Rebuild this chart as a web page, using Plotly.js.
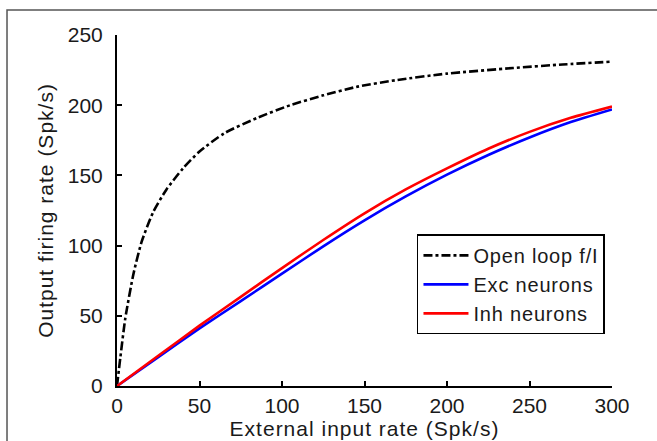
<!DOCTYPE html>
<html>
<head>
<meta charset="utf-8">
<script src="https://cdn.plot.ly/plotly-3.0.1.min.js"></script>
<style>
  html, body { margin: 0; padding: 0; background: #fff; overflow: hidden; }
  #chart { width: 657px; height: 441px; }
  .xtitle, .ytitle { letter-spacing: 1px; }
  .legendtext { letter-spacing: 0.8px; }
</style>
</head>
<body>
<div id="chart"></div>
<script>
// Open loop f/I curve
const openX = [0, 2, 5, 10, 15, 22, 30, 40, 50, 65, 85, 105, 125, 145, 170, 200, 240, 270, 300];
const openY = [0, 20, 48, 80, 103, 124, 140, 155, 167, 180, 191, 200, 207, 213, 218, 222.5, 226.5, 229, 231];

// Network curves
const netX = [0, 25, 50, 75, 100, 125, 150, 175, 200, 225, 250, 275, 300];
const excY = [0, 20.5, 41, 60.5, 80, 99.5, 118, 135, 150.5, 164.5, 177, 188, 197];
const inhY = [0, 21.5, 43, 63.5, 84, 104, 123, 140, 155, 169, 181, 191, 199];

const seriesNames = ['Open loop f/I', 'Exc neurons', 'Inh neurons'];

const xTicks = [0, 50, 100, 150, 200, 250, 300];
const yTicks = [0, 50, 100, 150, 200, 250];

const font = 'Liberation Sans, Arial, Helvetica, sans-serif';
const txt = '#1a1a1a';

const traces = [
  { x: openX, y: openY, name: seriesNames[0], legendgroup: 'a', mode: 'lines',
    line: { color: '#000000', width: 2.6, dash: '9px,3px,3px,3px', shape: 'spline', smoothing: 0.6 } },
  { x: netX, y: excY, name: seriesNames[1], legendgroup: 'b', mode: 'lines',
    line: { color: '#0000ff', width: 2.6, shape: 'spline', smoothing: 0.6 } },
  { x: netX, y: inhY, name: seriesNames[2], legendgroup: 'c', mode: 'lines',
    line: { color: '#ff0000', width: 2.6, shape: 'spline', smoothing: 0.6 } }
];

const layout = {
  width: 657, height: 441,
  margin: { l: 117, r: 45, t: 35, b: 55 },
  paper_bgcolor: '#ffffff', plot_bgcolor: '#ffffff',
  font: { family: font, size: 21, color: txt },
  showlegend: true,
  legend: {
    x: 0.606, y: 0.432, xanchor: 'left', yanchor: 'top',
    bgcolor: '#ffffff', bordercolor: '#000000', borderwidth: 1.5,
    font: { family: font, size: 20, color: txt },
    tracegroupgap: 0, traceorder: 'grouped', itemwidth: 45
  },
  xaxis: {
    range: [0, 300], tickvals: xTicks, ticktext: xTicks.map(String),
    showline: true, linecolor: '#000000', linewidth: 2,
    ticks: 'inside', ticklen: 5, tickwidth: 2, tickcolor: '#000000',
    showgrid: false, zeroline: false, ticklabelstandoff: 0,
    tickfont: { family: font, size: 21, color: txt },
    title: { text: 'External input rate (Spk/s)', standoff: 3,
             font: { family: font, size: 21, color: txt } }
  },
  yaxis: {
    range: [0, 250], tickvals: yTicks, ticktext: yTicks.map(String),
    showline: true, linecolor: '#000000', linewidth: 2,
    ticks: 'inside', ticklen: 5, tickwidth: 2, tickcolor: '#000000',
    showgrid: false, zeroline: false, ticklabelstandoff: 8,
    tickfont: { family: font, size: 21, color: txt },
    title: { text: 'Output firing rate (Spk/s)', standoff: 8,
             font: { family: font, size: 21, color: txt } }
  },
  shapes: [
    { type: 'path', xref: 'paper', yref: 'paper',
      path: 'M -0.2222,-0.3 L -0.2222,1.0712 L 1.3,1.0712',
      line: { color: '#555555', width: 1.5 }, layer: 'below' }
  ]
};

Plotly.newPlot('chart', traces, layout, { displayModeBar: false, staticPlot: true });
</script>
</body>
</html>
